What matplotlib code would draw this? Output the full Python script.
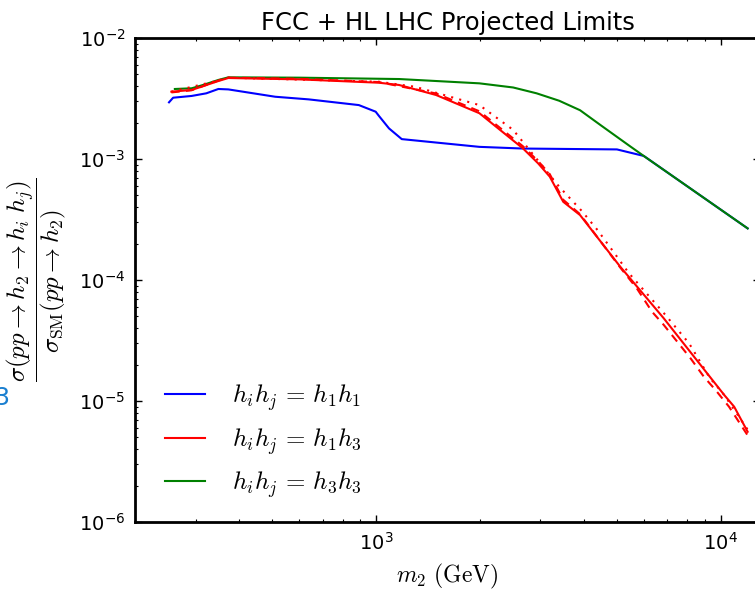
import matplotlib
matplotlib.use("Agg")
import matplotlib.pyplot as plt
from matplotlib.lines import Line2D

# h1 h1 channel
m_h1h1 = [251, 258, 292, 322, 349, 373, 510, 638, 892, 998, 1020, 1091, 1188, 1995, 2672, 5000, 5980, 11970]
lim_h1h1 = [2.94e-3, 3.21e-3, 3.32e-3, 3.49e-3, 3.79e-3, 3.76e-3, 3.27e-3, 3.11e-3, 2.79e-3, 2.46e-3,
            2.27e-3, 1.79e-3, 1.46e-3, 1.26e-3, 1.22e-3, 1.20e-3, 1.06e-3, 2.67e-4]

# h3 h3 channel
m_h3h3 = [261, 292, 315, 349, 373, 600, 1167, 1995, 2500, 2924, 3400, 3908, 4500, 5467, 5980, 11970]
lim_h3h3 = [3.79e-3, 3.84e-3, 4.09e-3, 4.50e-3, 4.73e-3, 4.70e-3, 4.58e-3, 4.22e-3, 3.90e-3, 3.49e-3,
            3.03e-3, 2.53e-3, 1.89e-3, 1.27e-3, 1.06e-3, 2.67e-4]

# h1 h3 channel (solid)
m_h1h3 = [255, 292, 349, 373, 600, 1020, 1167, 1494, 1995, 2672, 2954, 3192, 3493, 3908, 5109, 6837,
          10240, 10940, 11970]
lim_h1h3 = [3.60e-3, 3.72e-3, 4.41e-3, 4.67e-3, 4.55e-3, 4.27e-3, 4.09e-3, 3.38e-3, 2.39e-3, 1.22e-3,
            9.2e-4, 7.15e-4, 4.43e-4, 3.44e-4, 1.29e-4, 4.82e-5, 1.12e-5, 8.97e-6, 5.57e-6]

# h1 h3 channel (dashed variant)
m_h1h3_dash = [255, 292, 349, 373, 600, 1020, 1494, 1995, 2672, 2954, 3192, 3493, 3908, 5109, 5710,
               6320, 6837, 7480, 8177, 8930, 9665, 10570, 11970]
lim_h1h3_dash = [3.55e-3, 3.70e-3, 4.45e-3, 4.70e-3, 4.60e-3, 4.32e-3, 3.48e-3, 2.48e-3, 1.27e-3,
                 9.6e-4, 7.5e-4, 4.6e-4, 3.5e-4, 1.27e-4, 8.53e-5, 5.47e-5, 4.25e-5, 3.09e-5,
                 2.25e-5, 1.59e-5, 1.23e-5, 8.97e-6, 5.2e-6]

# h1 h3 channel (dotted variant)
m_h1h3_dot = [255, 349, 373, 1020, 1300, 1995, 2500, 3400, 3950, 4400, 5000, 5400, 6837, 8100, 9300,
              10240, 11970]
lim_h1h3_dot = [3.6e-3, 4.45e-3, 4.7e-3, 4.35e-3, 3.95e-3, 2.79e-3, 1.74e-3, 5.9e-4, 3.73e-4, 2.57e-4,
                1.56e-4, 1.15e-4, 5.33e-5, 2.99e-5, 1.55e-5, 1.12e-5, 5.8e-6]

legend_labels = [r"$h_ih_j\,=\,h_1h_1$", r"$h_ih_j\,=\,h_1h_3$", r"$h_ih_j\,=\,h_3h_3$"]
title_text = "FCC + HL LHC Projected Limits"
x_label = r"$m_2\ (\mathrm{GeV})$"
y_label = r"$\dfrac{\sigma(pp\rightarrow h_2\rightarrow h_i\;h_j)}{\sigma_{\mathrm{SM}}(pp\rightarrow h_2)}$"

plt.rcParams["axes.unicode_minus"] = False
plt.rcParams["mathtext.fontset"] = "cm"
plt.rcParams["font.family"] = "DejaVu Sans"

W, H = 755, 590
fig = plt.figure(figsize=(W / 100, H / 100), dpi=100)
fig.patch.set_facecolor("white")
ax = fig.add_axes([135 / W, 1 - 522 / H, 625 / W, 484 / H])

lw = 1.5
ax.plot(m_h1h1, lim_h1h1, color="#0000ff", lw=lw)
ax.plot(m_h3h3, lim_h3h3, color="#008000", lw=lw)
ax.plot(m_h1h3, lim_h1h3, color="#ff0000", lw=lw)
ax.plot(m_h1h3_dash, lim_h1h3_dash, color="#ff0000", lw=lw, ls=(0, (4, 3)))
ax.plot(m_h1h3_dot, lim_h1h3_dot, color="#ff0000", lw=lw, ls=(0, (1, 3)))

ax.set_xscale("log")
ax.set_yscale("log")
ax.set_xlim(200, 13000)
ax.set_ylim(1e-6, 1e-2)

for s in ax.spines.values():
    s.set_linewidth(2.0)
ax.tick_params(which="both", direction="in", top=True, right=True, labelsize=14, pad=7)
ax.tick_params(which="major", length=5, width=1)
ax.tick_params(which="minor", length=2.5, width=0.8)

ax.set_title(title_text, fontsize=17.5, pad=6)
ax.set_xlabel(x_label, fontsize=17, labelpad=6)
ax.set_ylabel(y_label, fontsize=18, labelpad=8)

handles = [Line2D([], [], color=c, lw=lw) for c in ["#0000ff", "#ff0000", "#008000"]]
ax.legend(handles, legend_labels, loc="lower left", frameon=False, fontsize=18,
          handlelength=1.6, handletextpad=1.1, labelspacing=0.5,
          bbox_to_anchor=(0.012, -0.001))

fig.text(-0.008, 1 - 398 / H, "3", color="#1a7fd0", fontsize=17, va="center", ha="left")

fig.savefig("out.png", dpi=100, facecolor="white")
